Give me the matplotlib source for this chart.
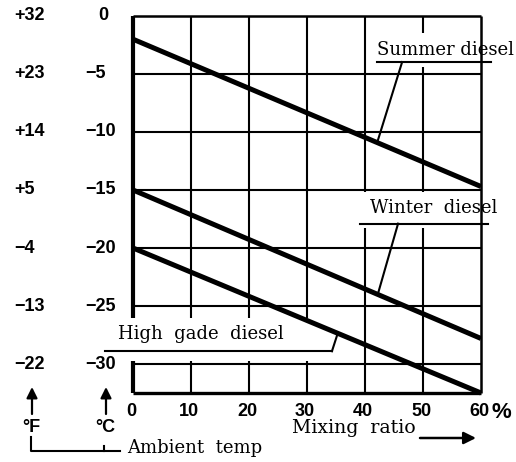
import matplotlib
matplotlib.use("Agg")
import matplotlib.pyplot as plt
from matplotlib.patches import Rectangle, FancyArrowPatch
import numpy as np

# Mixing ratio (%) and cloud/pour temperature (°C) for each fuel
mix = [0, 60]
summer = [-2.0, -14.7]
winter = [-15.0, -27.8]
high_grade = [-20.0, -32.5]

celsius_ticks = [0, -5, -10, -15, -20, -25, -30]
fahrenheit_labels = ["+32", "+23", "+14", "+5", "\u22124", "\u221213", "\u221222"]
mix_ticks = [0, 10, 20, 30, 40, 50, 60]

W, H = 516, 462
fig = plt.figure(figsize=(W / 100, H / 100), dpi=100)
ax = fig.add_axes([133 / W, 1 - 393 / H, 348 / W, 377 / H])
y_bottom = -32.5
ax.set_xlim(0, 60)
ax.set_ylim(y_bottom, 0)
ax.axis("off")

K = "black"
SANS = dict(family="Liberation Sans", weight="bold", fontsize=13, color=K)
SERIF = dict(family="DejaVu Serif", fontsize=13, color=K)

# grid
ax.hlines(celsius_ticks[1:], 0, 60, lw=1.5, color=K, clip_on=False, zorder=1)
ax.hlines(0, 0, 60, lw=1.8, color=K, clip_on=False, zorder=1)
ax.hlines(y_bottom, 0, 60, lw=2.4, color=K, clip_on=False, zorder=1)
ax.vlines(mix_ticks[1:-1], y_bottom, 0, lw=1.5, color=K, clip_on=False, zorder=1)
ax.vlines(0, y_bottom, 0, lw=3.0, color=K, clip_on=False, zorder=1)

# blank areas behind the labels
for (x0, y0, w, h) in [(-3, -29.7, 34, 3.7), (41.6, -4.4, 17.9, 2.9), (38.8, -18.3, 20.7, 3.15)]:
    ax.add_patch(Rectangle((x0, y0), w, h, fc="white", ec="none", zorder=2, clip_on=False))

ax.vlines(60, y_bottom, 0, lw=1.8, color=K, clip_on=False, zorder=3)

# fuel lines
for series in (summer, winter, high_grade):
    ax.plot(mix, series, color=K, lw=3.6, solid_capstyle="butt", clip_on=False, zorder=4)

# °C / °F scale labels
for v, f in zip(celsius_ticks, fahrenheit_labels):
    label = "0" if v == 0 else f"\u2212{abs(v)}"
    dx = -35 if v == 0 else -48
    ax.annotate(label, xy=(0, v), xytext=(dx, 0), textcoords="offset pixels",
                ha="left", va="center", annotation_clip=False, **SANS)
    ax.annotate(f, xy=(0, v), xytext=(-119, 0), textcoords="offset pixels",
                ha="left", va="center", annotation_clip=False, **SANS)

# mixing ratio labels
for v in mix_ticks:
    ax.annotate(str(v), xy=(v, y_bottom), xytext=(-2, -18), textcoords="offset pixels",
                ha="center", va="center", annotation_clip=False, **SANS)
ax.annotate("%", xy=(60, y_bottom), xytext=(11, -19), textcoords="offset pixels",
            ha="left", va="center", annotation_clip=False,
            family="Liberation Sans", weight="bold", fontsize=16, color=K)


def callout(text, tx, ty, ux0, ux1, uy, lx, series, lead_x):
    ax.text(tx, ty, text, ha="left", va="center", zorder=5, clip_on=False, **SERIF)
    ax.plot([ux0, ux1], [uy, uy], color=K, lw=1.5, clip_on=False, zorder=5)
    ax.plot([lx, lead_x], [uy, np.interp(lead_x, mix, series)], color=K, lw=1.5,
            clip_on=False, zorder=5)


callout("Summer diesel", 42.1, -2.9, 42.1, 61.7, -3.97, 46.4, summer, 42.1)
callout("Winter  diesel", 40.9, -16.55, 39.1, 61.2, -17.9, 45.7, winter, 42.2)
callout("High  gade  diesel", -2.6, -27.45, -4.8, 34.3, -28.9, 34.3, high_grade, 35.3)


# ambient temperature key under the scales
def fy(y):
    return H - y


for x in (32, 106):
    fig.add_artist(FancyArrowPatch((x, fy(414)), (x, fy(387)), transform=None,
                                   arrowstyle="-|>", color=K, lw=1.6, mutation_scale=16,
                                   shrinkA=0, shrinkB=0))
fig.text(31 / W, 1 - 427 / H, "°F", ha="center", va="center", **SANS)
fig.text(105 / W, 1 - 427 / H, "°C", ha="center", va="center", **SANS)
fig.add_artist(plt.Line2D([31 / W, 31 / W, 120 / W], [1 - 437 / H, 1 - 451 / H, 1 - 451 / H],
                          color=K, lw=1.5))
fig.add_artist(plt.Line2D([104 / W, 104 / W], [1 - 446 / H, 1 - 451 / H], color=K, lw=1.5))
fig.text(127 / W, 1 - 448 / H, "Ambient  temp", ha="left", va="center", **SERIF)

fig.text(292 / W, 1 - 428 / H, "Mixing  ratio", ha="left", va="center",
         family="DejaVu Serif", fontsize=13.6, color=K)
fig.add_artist(FancyArrowPatch((420, fy(438)), (476, fy(438)), transform=None,
                               arrowstyle="-|>", color=K, lw=1.8, mutation_scale=18,
                               shrinkA=0, shrinkB=0))

fig.savefig("out.png", dpi=100, facecolor="white")
